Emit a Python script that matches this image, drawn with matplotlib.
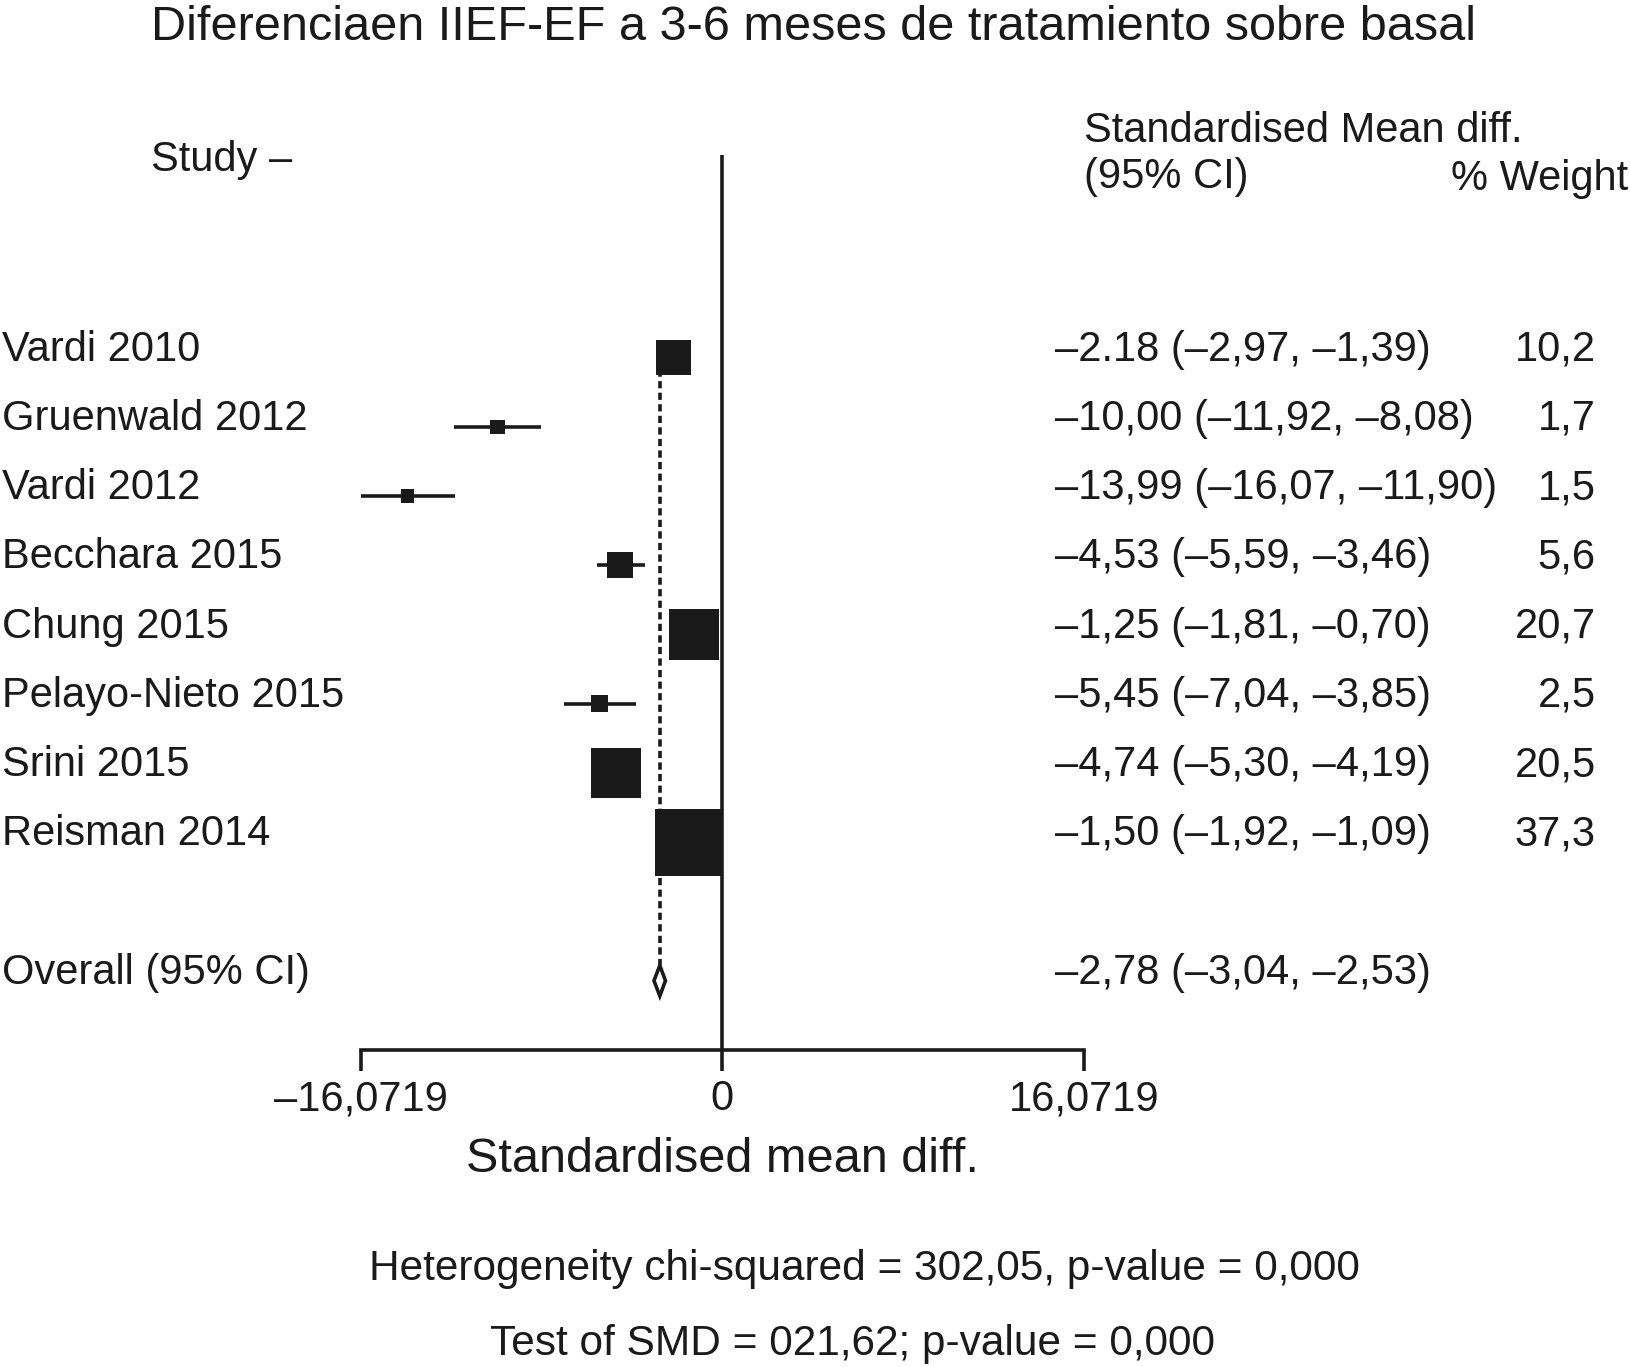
import numpy as np
import matplotlib.pyplot as plt
from matplotlib.patches import Polygon

# fuente tipo Helvetica
plt.rcParams["font.family"] = ["Liberation Sans", "DejaVu Sans"]

# ===================== datos =====================
title = "Diferenciaen IIEF-EF a 3-6 meses de tratamiento sobre basal"
studies = ["Vardi 2010", "Gruenwald 2012", "Vardi 2012", "Becchara 2015",
           "Chung 2015", "Pelayo-Nieto 2015", "Srini 2015", "Reisman 2014"]
smd = [-2.18, -10.00, -13.99, -4.53, -1.25, -5.45, -4.74, -1.50]
ci_low = [-2.97, -11.92, -16.07, -5.59, -1.81, -7.04, -5.30, -1.92]
ci_high = [-1.39, -8.08, -11.90, -3.46, -0.70, -3.85, -4.19, -1.09]
weight = [10.2, 1.7, 1.5, 5.6, 20.7, 2.5, 20.5, 37.3]
effect_labels = ["–2.18 (–2,97, –1,39)", "–10,00 (–11,92, –8,08)",
                 "–13,99 (–16,07, –11,90)", "–4,53 (–5,59, –3,46)",
                 "–1,25 (–1,81, –0,70)", "–5,45 (–7,04, –3,85)",
                 "–4,74 (–5,30, –4,19)", "–1,50 (–1,92, –1,09)"]
weight_labels = ["10,2", "1,7", "1,5", "5,6", "20,7", "2,5", "20,5", "37,3"]

overall_smd = -2.78
overall_low = -3.04
overall_high = -2.53
overall_label = "–2,78 (–3,04, –2,53)"

axis_limit = 16.0719
tick_values = [-axis_limit, 0, axis_limit]
tick_labels = ["–16,0719", "0", "16,0719"]

heterogeneity = "Heterogeneity chi-squared = 302,05, p-value = 0,000"
smd_test = "Test of SMD = 021,62; p-value = 0,000"
# ==================================================

ink = "#1a1a1a"
lw = 2.6

rows = np.arange(len(studies))
overall_row = len(studies) + 1
axis_row = overall_row + 1

fig = plt.figure(figsize=(16.3, 13.67), dpi=100)
ax = fig.add_axes([0, 0, 1, 1])
ax.set_xlim(-32.10, 40.33)
ax.set_ylim(14.58, -5.165)

# eje inferior (solo la linea del eje x, con tres marcas)
for side in ["top", "left", "right"]:
    ax.spines[side].set_visible(False)
ax.spines["bottom"].set_position(("data", axis_row))
ax.spines["bottom"].set_bounds(-axis_limit, axis_limit)
ax.spines["bottom"].set_linewidth(lw)
ax.spines["bottom"].set_color(ink)
ax.set_xticks(tick_values)
ax.set_xticklabels(tick_labels)
ax.tick_params(axis="x", direction="out", length=15, width=lw, pad=6,
               labelsize=30, color=ink, labelcolor=ink)
ax.set_yticks([])
ax.patch.set_visible(False)

# linea de no efecto
ax.vlines(0, -2.93, axis_row, color=ink, lw=lw, zorder=2)

# linea punteada del efecto global
ax.vlines(overall_smd, rows[0], overall_row - 0.22, color=ink,
          lw=lw, linestyles=(0, (2.0, 1.2)), zorder=1)

# intervalos de confianza y cuadrados
ax.hlines(rows, ci_low, ci_high, color=ink, lw=lw, zorder=3)
ax.scatter(smd, rows, s=np.array(weight) * 62.9, marker="s",
           color=ink, linewidths=0, zorder=4)

# diamante global
diamond = Polygon([[overall_low, overall_row], [overall_smd, overall_row - 0.22],
                   [overall_high, overall_row], [overall_smd, overall_row + 0.22]],
                  closed=True, facecolor="white", edgecolor=ink,
                  lw=lw, zorder=4)
ax.add_patch(diamond)

# textos de filas
trans = ax.get_yaxis_transform()
for r, name, eff, w in zip(rows, studies, effect_labels, weight_labels):
    ax.text(0.001, r + 0.045, name, transform=trans, fontsize=30,
            ha="left", va="baseline", color=ink)
    ax.text(0.647, r + 0.045, eff, transform=trans, fontsize=30,
            ha="left", va="baseline", color=ink)
    ax.text(0.979, r + 0.045, w, transform=trans, fontsize=30,
            ha="right", va="baseline", color=ink)
ax.text(0.001, overall_row + 0.045, "Overall (95% CI)", transform=trans,
        fontsize=30, ha="left", va="baseline", color=ink)
ax.text(0.647, overall_row + 0.045, overall_label, transform=trans,
        fontsize=30, ha="left", va="baseline", color=ink)

# cabeceras
ax.text(0.0925, -4.59, title, transform=trans, fontsize=35,
        ha="left", va="baseline", color=ink)
ax.text(0.0925, -2.69, "Study –", transform=trans, fontsize=30,
        ha="left", va="baseline", color=ink)
ax.text(0.665, -3.11, "Standardised Mean diff.", transform=trans, fontsize=30,
        ha="left", va="baseline", color=ink)
ax.text(0.665, -2.45, "(95% CI)", transform=trans, fontsize=30,
        ha="left", va="baseline", color=ink)
ax.text(0.999, -2.42, "% Weight", transform=trans, fontsize=30,
        ha="right", va="baseline", color=ink)

# etiqueta del eje y notas
ax.text(0, 11.77, "Standardised mean diff.", fontsize=35,
        ha="center", va="baseline", color=ink)
ax.text(0.5306, 13.33, heterogeneity, transform=trans, fontsize=30.5,
        ha="center", va="baseline", color=ink)
ax.text(0.523, 14.40, smd_test, transform=trans, fontsize=30.5,
        ha="center", va="baseline", color=ink)

fig.savefig("out.png", dpi=100)
plt.close(fig)
